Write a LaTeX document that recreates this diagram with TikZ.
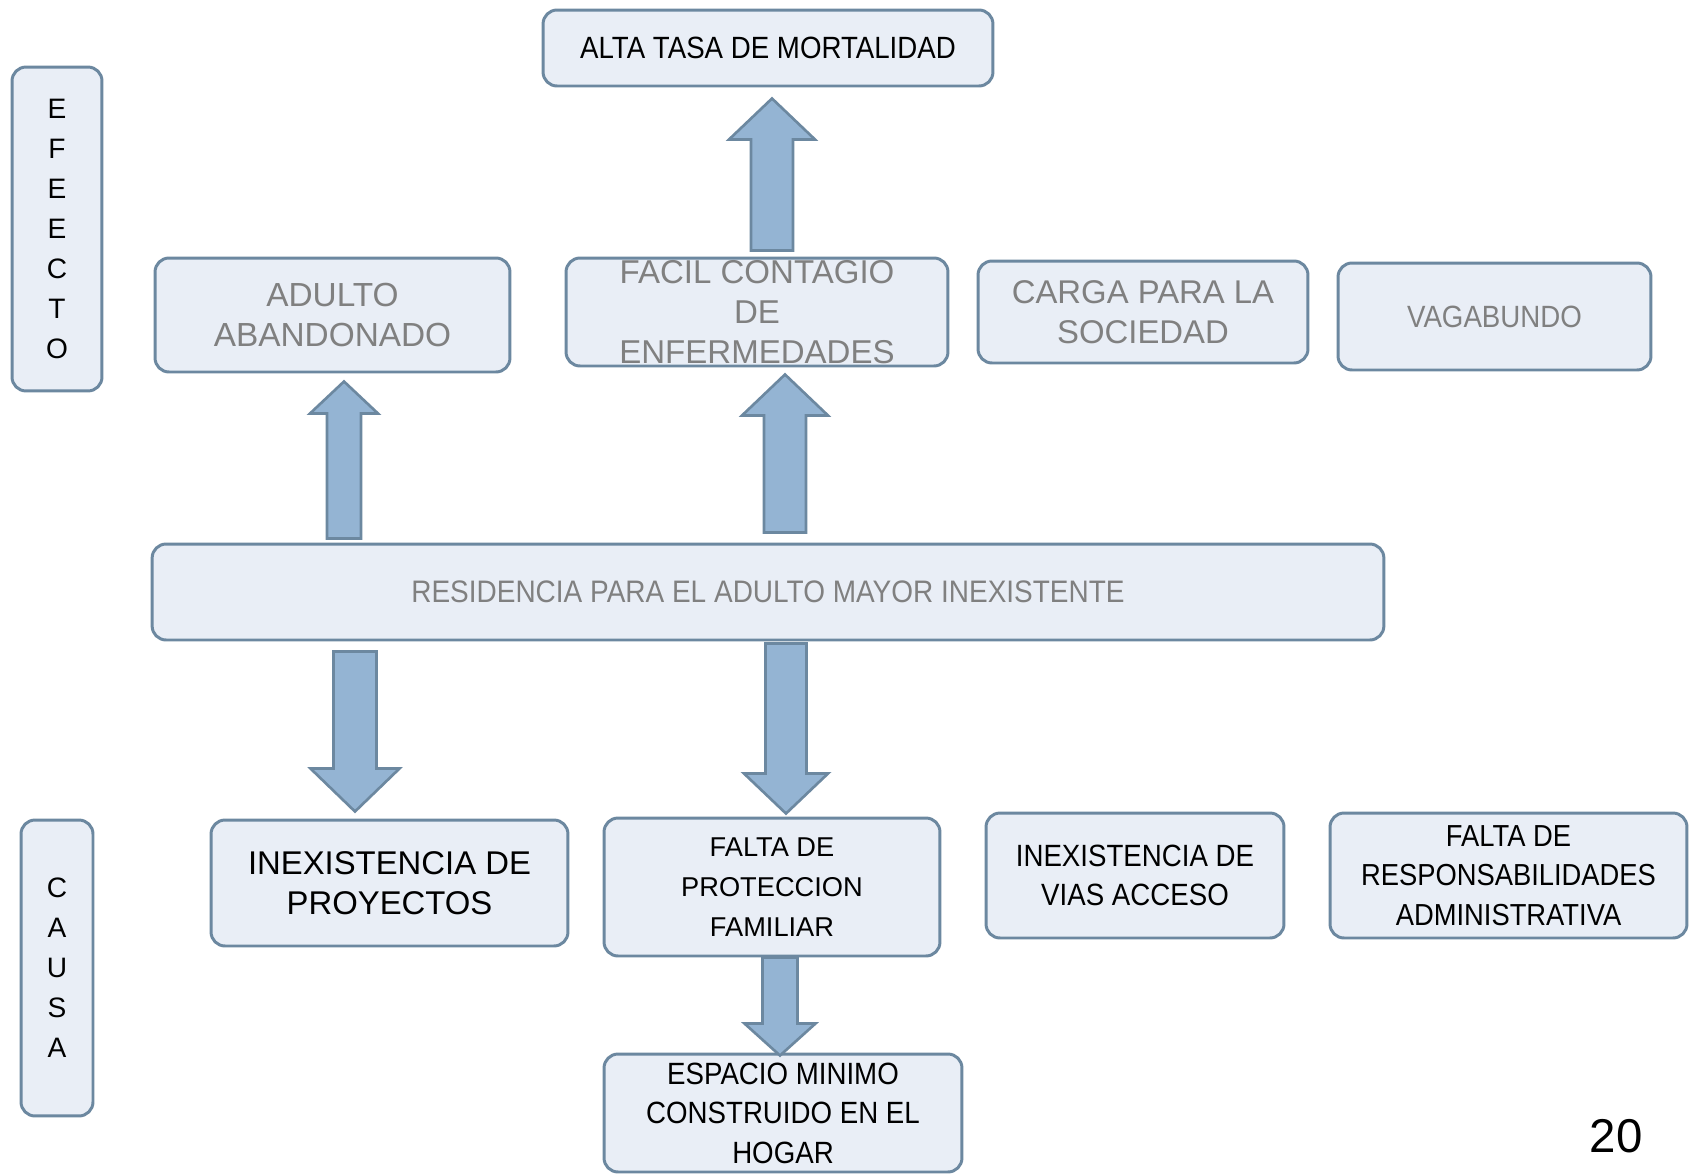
\documentclass[tikz,border=0pt]{standalone}
\usepackage{fontspec}
\setmainfont{Liberation Sans}
\newfontfamily\narrowfont{Liberation Sans}[FakeStretch=0.9]
\usepackage{tikz}
\usetikzlibrary{calc}
\definecolor{boxfill}{RGB}{233,238,246}
\definecolor{boxline}{RGB}{108,136,160}
\definecolor{arrfill}{RGB}{148,180,211}
\definecolor{txtgray}{RGB}{128,128,128}

\tikzset{
  card/.style={draw=boxline,fill=boxfill,line width=1.7pt,rounded corners=0.28cm,
    inner sep=0pt,align=center},
  blockarr/.style={draw=boxline,fill=arrfill,line width=1.5pt,line join=miter},
}
% block arrow: from, to, shaft half width, head half width, head length
\newcommand{\bigarrow}[5]{%
  \coordinate (as) at (#1);
  \coordinate (ae) at (#2);
  \coordinate (ab) at ($(ae)!#5!(as)$);
  \draw[blockarr] ($(as)!#3!90:(ae)$) -- ($(ab)!#3!90:(ae)$) -- ($(ab)!#4!90:(ae)$)
    -- (ae) -- ($(ab)!#4!-90:(ae)$) -- ($(ab)!#3!-90:(ae)$) -- ($(as)!#3!-90:(ae)$) -- cycle;}

\begin{document}
\begin{tikzpicture}[x=0.02cm,y=-0.02cm]
  \useasboundingbox (0,0) rectangle (1695,1174);
  \clip (0,0) rectangle (1695,1174);

  % efectos
  \node[card,minimum width=18mm,minimum height=64.8mm,font={\fontsize{16}{22.8}\selectfont}] (efecto) at (57,229) {E\\F\\E\\E\\C\\T\\O};
  \node[card,minimum width=90mm,minimum height=15.2mm,font={\narrowfont\fontsize{17.5}{23}\selectfont}] (alta) at (768,48) {ALTA TASA DE MORTALIDAD};
  \node[card,minimum width=71mm,minimum height=22.8mm,text=txtgray,font={\fontsize{19}{23.3}\selectfont}] (adulto) at (332.5,315) {ADULTO\\ABANDONADO};
  \node[card,minimum width=76.4mm,minimum height=21.6mm,text=txtgray,font={\fontsize{18.8}{22.8}\selectfont}] (facil) at (757,312) {FACIL CONTAGIO\\DE\\ENFERMEDADES};
  \node[card,minimum width=66mm,minimum height=20.4mm,text=txtgray,font={\fontsize{18.7}{22.5}\selectfont}] (carga) at (1143,312) {CARGA PARA LA\\SOCIEDAD};
  \node[card,minimum width=62.6mm,minimum height=21.4mm,text=txtgray,font={\narrowfont\fontsize{17.5}{23}\selectfont}] (vaga) at (1494.5,316.5) {VAGABUNDO};

  % problema central
  \node[card,minimum width=246.4mm,minimum height=19.2mm,text=txtgray,font={\narrowfont\fontsize{17.7}{23}\selectfont}] (res) at (768,592) {RESIDENCIA PARA EL ADULTO MAYOR INEXISTENTE};

  % causas
  \node[card,minimum width=14.4mm,minimum height=59.2mm,font={\fontsize{16}{22.8}\selectfont}] (causa) at (57,968) {C\\A\\U\\S\\A};
  \node[card,minimum width=71.4mm,minimum height=25.2mm,font={\fontsize{18.7}{22.8}\selectfont}] (proy) at (389.5,883) {INEXISTENCIA DE\\PROYECTOS};
  \node[card,minimum width=67.2mm,minimum height=27.6mm,font={\fontsize{15.5}{22.8}\selectfont}] (falta) at (772,887) {FALTA DE\\PROTECCION\\FAMILIAR};
  \node[card,minimum width=59.6mm,minimum height=25mm,font={\narrowfont\fontsize{17.5}{22.3}\selectfont}] (vias) at (1135,875.5) {INEXISTENCIA DE\\VIAS ACCESO};
  \node[card,minimum width=71.4mm,minimum height=25mm,font={\narrowfont\fontsize{17.3}{22.5}\selectfont}] (resp) at (1508.5,875.5) {FALTA DE\\RESPONSABILIDADES\\ADMINISTRATIVA};
  \node[card,minimum width=71.6mm,minimum height=23.6mm,font={\narrowfont\fontsize{17.5}{22.5}\selectfont}] (espacio) at (783,1113) {ESPACIO MINIMO\\CONSTRUIDO EN EL\\HOGAR};

  \node[font={\fontsize{27}{30}\selectfont}] (pag) at (1616,1136) {20};

  % flechas
  \bigarrow{$(facil.north)+(15,-6)$}{$(alta.south)+(4,11)$}{0.42cm}{0.86cm}{0.82cm}
  \bigarrow{$(res.north)+(-424,-4)$}{$(adulto.south)+(11.5,8)$}{0.34cm}{0.68cm}{0.64cm}
  \bigarrow{$(res.north)+(17,-10)$}{$(facil.south)+(28,7)$}{0.42cm}{0.86cm}{0.82cm}
  \bigarrow{$(res.south)+(-413,10)$}{$(proy.north)+(-34.5,-7)$}{0.43cm}{0.89cm}{0.86cm}
  \bigarrow{$(res.south)+(18,2)$}{$(falta.north)+(14,-3)$}{0.41cm}{0.84cm}{0.8cm}
  \bigarrow{$(falta.south)+(8,0)$}{$(espacio.north)+(-3,3)$}{0.35cm}{0.71cm}{0.64cm}
\end{tikzpicture}
\end{document}
